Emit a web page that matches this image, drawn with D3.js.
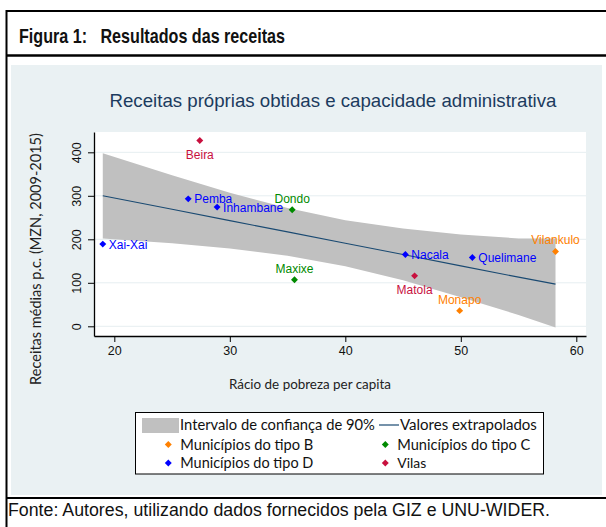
<!DOCTYPE html>
<html>
<head>
<meta charset="utf-8">
<script src="https://cdn.jsdelivr.net/npm/d3@7"></script>
<style>
  body { margin: 0; background: #fff; }
  svg { display: block; }
</style>
</head>
<body>
<div id="chart"></div>
<script>
// data
const cities = ["Beira", "Pemba", "Inhambane", "Dondo", "Xai-Xai", "Maxixe", "Nacala", "Quelimane", "Vilankulo", "Matola", "Monapo"]
const poverty = [27.4, 26.4, 28.9, 35.4, 19.0, 35.6, 45.2, 51.0, 58.2, 46.0, 49.9]
const revenue = [427, 293, 274, 268, 189, 107, 165, 158, 172, 116, 36]
const cityType = ["V", "D", "D", "C", "D", "C", "D", "D", "B", "V", "B"]
const labelPos = ["b", "r", "r", "t", "r", "t", "r", "r", "t", "b", "t"]

const bandX = [19, 25, 30, 35, 40, 45, 50, 55, 58.2]
const bandUpper = [398, 347, 307, 272, 244, 225, 211, 202, 202]
const bandLower = [202, 191, 179, 162, 138, 106, 67, 26, -3]
const fitY = [300, 269, 243, 217, 191, 165, 139, 113, 97]

const xTicks = [20, 30, 40, 50, 60]
const yTicks = [0, 100, 200, 300, 400]

const typeKeys = ["B", "C", "D", "V"]
const typeNames = ["Municípios do tipo B", "Municípios do tipo C", "Municípios do tipo D", "Vilas"]
const typeColors = ["#ff8000", "#008a00", "#0000ff", "#c8103e"]

const W = 606, H = 527
const svg = d3.select("#chart").append("svg")
    .attr("width", W)
    .attr("height", H)

const color = d3.scaleOrdinal().domain(typeKeys).range(typeColors)

// frame
svg.append("rect").attr("x", 11).attr("y", 65).attr("width", 591).attr("height", 430).attr("fill", "#eaf1f3")
svg.append("line").attr("x1", 6.5).attr("x2", 6.5).attr("y1", 10).attr("y2", H).attr("stroke", "#000").attr("stroke-width", 2)
svg.append("line").attr("x1", 6).attr("x2", W).attr("y1", 11).attr("y2", 11).attr("stroke", "#000").attr("stroke-width", 2)
svg.append("line").attr("x1", 6).attr("x2", W).attr("y1", 55.5).attr("y2", 55.5).attr("stroke", "#000").attr("stroke-width", 2.5)
svg.append("line").attr("x1", 6).attr("x2", W).attr("y1", 498).attr("y2", 498).attr("stroke", "#000").attr("stroke-width", 2)

svg.append("text")
    .attr("x", 19).attr("y", 43)
    .attr("font-family", "'Liberation Sans Narrow', 'Liberation Sans', sans-serif")
    .attr("font-weight", "bold")
    .attr("font-size", 21)
    .attr("fill", "#111")
    .attr("textLength", 266).attr("lengthAdjust", "spacingAndGlyphs")
    .style("white-space", "pre")
    .text("Figura 1:   Resultados das receitas")

svg.append("text")
    .attr("x", 8).attr("y", 516)
    .attr("font-family", "'Liberation Sans Narrow', 'Liberation Sans', sans-serif")
    .attr("font-size", 17.5)
    .attr("fill", "#111")
    .attr("textLength", 542).attr("lengthAdjust", "spacingAndGlyphs")
    .text("Fonte: Autores, utilizando dados fornecidos pela GIZ e UNU-WIDER.")

function fitWidth(sel, w) {
    const cur = sel.node().getComputedTextLength()
    const fs = parseFloat(sel.attr("font-size"))
    sel.attr("font-size", (fs * w / cur).toFixed(2))
}

// plot
const plot = { x: 94, y: 132, w: 492, h: 204 }
const x = d3.scaleLinear().domain([18.24, 60.84]).range([plot.x, plot.x + plot.w])
const y = d3.scaleLinear().domain([-22.3, 446.7]).range([plot.y + plot.h, plot.y])

svg.append("rect")
    .attr("x", plot.x).attr("y", plot.y)
    .attr("width", plot.w).attr("height", plot.h)
    .attr("fill", "#fff")

svg.append("g").selectAll("line")
    .data(yTicks)
    .join("line")
    .attr("x1", plot.x).attr("x2", plot.x + plot.w)
    .attr("y1", d => y(d)).attr("y2", d => y(d))
    .attr("stroke", "#e6eef1").attr("stroke-width", 1)

const title = svg.append("text")
    .attr("x", 333).attr("y", 107)
    .attr("text-anchor", "middle")
    .attr("font-family", "'Liberation Sans', Arial, sans-serif")
    .attr("font-size", 16)
    .attr("fill", "#1c3b5e")
    .text("Receitas próprias obtidas e capacidade administrativa")
fitWidth(title, 447)

// confidence band and fit line
const bandData = bandX.map((bx, i) => ({ x: bx, lo: bandLower[i], hi: bandUpper[i], fit: fitY[i] }))
svg.append("path")
    .datum(bandData)
    .attr("fill", "#c0c0c0")
    .attr("d", d3.area().x(d => x(d.x)).y0(d => y(d.lo)).y1(d => y(d.hi)))

svg.append("path")
    .datum(bandData)
    .attr("fill", "none")
    .attr("stroke", "#1a4a72")
    .attr("stroke-width", 1.1)
    .attr("d", d3.line().x(d => x(d.x)).y(d => y(d.fit)))

// axes
const xAxis = svg.append("g")
    .attr("transform", `translate(0,${plot.y + plot.h})`)
    .call(d3.axisBottom(x).tickValues(xTicks).tickSize(6).tickPadding(4).tickSizeOuter(0))
xAxis.select(".domain").attr("stroke", "#000").attr("stroke-width", 1.3)
xAxis.selectAll(".tick line").attr("stroke", "#000")
xAxis.selectAll("text")
    .attr("font-family", "'Liberation Sans', Arial, sans-serif")
    .attr("font-size", 12.5)
    .attr("fill", "#111")

const yAxis = svg.append("g")
    .attr("transform", `translate(${plot.x},0)`)
    .call(d3.axisLeft(y).tickValues(yTicks).tickSize(6).tickSizeOuter(0))
yAxis.select(".domain").attr("stroke", "#000").attr("stroke-width", 1.3)
yAxis.selectAll(".tick line").attr("stroke", "#000")
yAxis.selectAll("text")
    .attr("transform", "rotate(-90)")
    .attr("x", 0).attr("y", -13.5).attr("dy", 0)
    .attr("text-anchor", "middle")
    .attr("font-family", "'Liberation Sans', Arial, sans-serif")
    .attr("font-size", 12.5)
    .attr("fill", "#111")

const xTitle = svg.append("text")
    .attr("x", 310).attr("y", 389)
    .attr("text-anchor", "middle")
    .attr("font-family", "Lato, sans-serif")
    .attr("font-size", 14)
    .attr("fill", "#222")
    .text("Rácio de pobreza per capita")
fitWidth(xTitle, 162)

const yTitle = svg.append("text")
    .attr("transform", "translate(41,259) rotate(-90)")
    .attr("text-anchor", "middle")
    .attr("font-family", "Lato, sans-serif")
    .attr("font-size", 14)
    .attr("fill", "#222")
    .text("Receitas médias p.c. (MZN, 2009-2015)")
fitWidth(yTitle, 252)

// points (small diamonds = squares turned 45 degrees)
const diamond = d3.symbol().type(d3.symbolSquare).size(24)
const pts = cities.map((c, i) => ({ name: c, x: poverty[i], y: revenue[i], t: cityType[i], pos: labelPos[i] }))

svg.append("g").selectAll("path")
    .data(pts)
    .join("path")
    .attr("transform", d => `translate(${x(d.x)},${y(d.y)}) rotate(45)`)
    .attr("d", diamond)
    .attr("fill", d => color(d.t))

svg.append("g").selectAll("text")
    .data(pts)
    .join("text")
    .attr("x", d => d.pos === "r" ? x(d.x) + 6 : x(d.x))
    .attr("y", d => d.pos === "r" ? y(d.y) + 4.5 : d.pos === "t" ? y(d.y) - 7 : y(d.y) + 18)
    .attr("text-anchor", d => d.pos === "r" ? "start" : "middle")
    .attr("font-family", "'Liberation Sans', Arial, sans-serif")
    .attr("font-size", 12)
    .attr("fill", d => color(d.t))
    .text(d => d.name)

// legend
const legend = svg.append("g")
legend.append("rect")
    .attr("x", 135.5).attr("y", 412.5).attr("width", 408).attr("height", 61.5)
    .attr("fill", "#fff").attr("stroke", "#000").attr("stroke-width", 1)

legend.append("rect").attr("x", 142).attr("y", 418).attr("width", 37).attr("height", 15).attr("fill", "#c0c0c0")
const l1 = legend.append("text").attr("x", 180).attr("y", 430)
    .attr("font-family", "Lato, sans-serif").attr("font-size", 14).attr("fill", "#111")
    .text("Intervalo de confiança de 90%")
fitWidth(l1, 195)
legend.append("line").attr("x1", 379).attr("x2", 399).attr("y1", 425).attr("y2", 425)
    .attr("stroke", "#1a4a72").attr("stroke-width", 1.2)
const l2 = legend.append("text").attr("x", 400).attr("y", 430)
    .attr("font-family", "Lato, sans-serif").attr("font-size", 14).attr("fill", "#111")
    .text("Valores extrapolados")
fitWidth(l2, 137)

const legX = [168.3, 385.3, 168.3, 385.3]
const legY = [444.5, 444.5, 463, 463]
typeKeys.forEach((k, i) => {
    legend.append("path")
        .attr("transform", `translate(${legX[i]},${legY[i]}) rotate(45)`)
        .attr("d", diamond)
        .attr("fill", color(k))
    const t = legend.append("text")
        .attr("x", legX[i] + 12).attr("y", legY[i] + 5)
        .attr("font-family", "Lato, sans-serif").attr("font-size", 14).attr("fill", "#111")
        .text(typeNames[i])
    if (i < 3) fitWidth(t, 133)
    else fitWidth(t, 29)
})
</script>
</body>
</html>
